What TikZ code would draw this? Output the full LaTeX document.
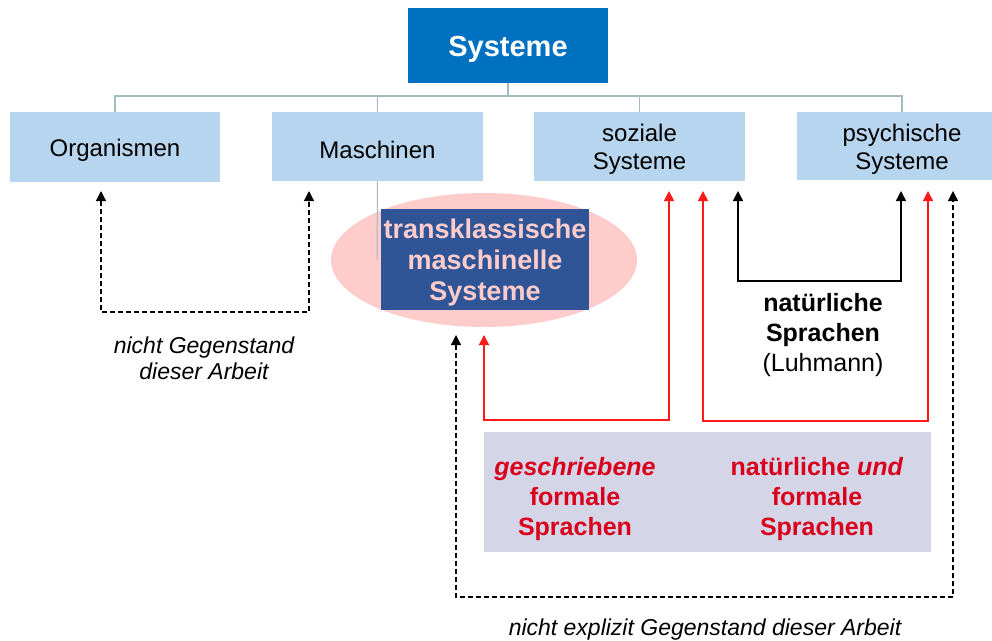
\documentclass[tikz,border=0pt]{standalone}
\usepackage{fontspec}
\setmainfont{Liberation Sans}
\usetikzlibrary{shapes.geometric,arrows.meta}
\definecolor{sysblue}{HTML}{0070C0}
\definecolor{lightbox}{HTML}{B7D5EE}
\definecolor{treeline}{HTML}{A3BCC4}
\definecolor{ellpink}{HTML}{FFCCCC}
\definecolor{darkbox}{HTML}{2F5597}
\definecolor{lavbox}{HTML}{D5D5E8}
\definecolor{redtext}{HTML}{D9001B}
\definecolor{redline}{HTML}{FF1A1A}
\tikzset{
  catbox/.style={fill=lightbox, minimum width=211pt, minimum height=69pt, inner sep=0pt},
  cattext/.style={align=center, inner sep=0pt, font=\fontsize{24}{28}\selectfont},
  tree/.style={draw=treeline, line width=1.4pt},
  tipA/.style={{Triangle[length=10pt,width=10pt]}-{Triangle[length=10pt,width=10pt]}},
  dasharrow/.style={tipA, line width=1.3pt, dash pattern=on 5pt off 3pt},
  redarrow/.style={tipA, draw=redline, line width=1.5pt},
  blackarrow/.style={tipA, line width=1.5pt},
  redlabel/.style={text=redtext, align=center, font=\bfseries\fontsize{25}{30}\selectfont},
  note/.style={align=center, font=\itshape\fontsize{23}{26}\selectfont}
}
\begin{document}
\begin{tikzpicture}[x=1pt,y=-1pt]
\useasboundingbox (0,0) rectangle (992,640);
\clip (0,0) rectangle (992,640);

% top box
\node[fill=sysblue, minimum width=200pt, minimum height=75pt, inner sep=0pt] (sys) at (508,45.5) {};
\node[text=white, inner sep=0pt, font=\bfseries\fontsize{29}{32}\selectfont] (syst) at (508,49) {Systeme};

% category boxes
\node[catbox, minimum width=210pt, minimum height=70pt] (org) at (115,147) {};
\node[catbox] (mas) at (377.5,146.5) {};
\node[catbox] (soz) at (639.5,146.5) {};
\node[catbox, minimum height=68pt] (psy) at (902,146) {};
\node[cattext] (orgt) at (115,150) {Organismen};
\node[cattext] (mast) at (377.5,149.5) {Maschinen};
\node[cattext] (sozt) at (639.5,149.5) {soziale\\Systeme};
\node[cattext] (psyt) at (902,149) {psychische\\Systeme};

% tree connectors
\coordinate (bus) at (508,96);
\draw[tree] (sys.south) -- (bus);
\draw[tree] (org.north) |- (bus) -| (psy.north);
\draw[tree] (mas.north) -- (mas.north |- bus);
\draw[tree] (soz.north) -- (soz.north |- bus);

% ellipse and transclassical box
\node[ellipse, fill=ellpink, minimum width=306pt, minimum height=134pt, inner sep=0pt] (ell) at (484,260) {};
\coordinate (masend) at (377,260);
\draw[tree, line width=1pt] (mas.south) -- (masend);
\node[fill=darkbox, minimum width=208pt, minimum height=101pt, inner sep=0pt] (trans) at (485,259.5) {};
\node[text=ellpink, align=center, inner sep=0pt, font=\bfseries\fontsize{27}{31}\selectfont] (transt) at (485,263) {transklassische\\maschinelle\\Systeme};

% language box
\node[fill=lavbox, minimum width=447pt, minimum height=120pt, inner sep=0pt] (lang) at (707.5,492) {};
\node[redlabel] (geschr) at (575,499) {\textit{geschriebene}\\formale\\Sprachen};
\node[redlabel] (natform) at (817,499) {natürliche \textit{und}\\formale\\Sprachen};

% natural languages label
\node[align=center, font=\fontsize{25}{30}\selectfont] (natl) at (823,335) {\textbf{natürliche}\\\textbf{Sprachen}\\(Luhmann)};

% notes
\node[note] (note1) at (204,358) {nicht Gegenstand\\dieser Arbeit};
\node[note] (note2) at (705,630) {nicht explizit Gegenstand dieser Arbeit};

% arrow end points
\coordinate (a1) at (101,191);
\coordinate (a2) at (309,191);
\coordinate (r1) at (669,191);
\coordinate (r1b) at (484,335);
\coordinate (r2) at (703,191);
\coordinate (r2b) at (928,191);
\coordinate (b1) at (738,191);
\coordinate (b2) at (901,191);
\coordinate (d1) at (456,335);
\coordinate (d2) at (953,191);

% connectors
\draw[dasharrow] (a1) -- (101,312) -| (a2);
\draw[redarrow] (r1) -- (669,420) -| (r1b);
\draw[redarrow] (r2) -- (703,421) -| (r2b);
\draw[blackarrow] (b1) -- (738,281) -| (b2);
\draw[dasharrow] (d1) -- (456,597) -| (d2);
\end{tikzpicture}
\end{document}
